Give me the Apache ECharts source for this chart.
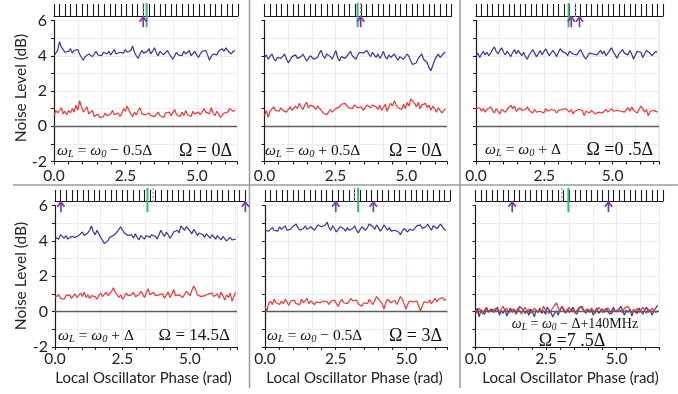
<!DOCTYPE html>
<html><head><meta charset="utf-8">
<script src="https://cdn.jsdelivr.net/npm/echarts@6.0.0/dist/echarts.min.js"></script>
<style>html,body{margin:0;padding:0;background:#fff}#c{width:678px;height:394px}</style>
</head><body><div id="c"></div>
<script>
// ---------- data ----------
const xTickLabels = ['0.0', '2.5', '5.0'];
const yTickLabels = ['-2', '0', '2', '4', '6'];

const blue1 = [4.0,4.1,4.3,4.8,4.5,4.35,4.2,4.3,4.25,4.4,4.15,4.3,4.2,4.35,4.1,3.9,3.75,3.95,4.05,4.1,4.0,3.95,4.1,4.25,4.05,4.15,4.0,4.2,4.3,4.1,4.25,4.05,4.2,4.35,4.1,4.0,4.2,4.3,4.15,4.35,4.2,4.1,4.3,4.55,4.2,4.0,3.85,4.1,4.3,4.15,4.05,4.25,4.4,4.1,4.2,4.45,4.15,4.0,4.25,4.3,4.05,4.15,4.3,4.1,3.95,3.8,4.0,4.2,4.05,4.15,4.0,4.25,4.1,4.2,4.3,4.0,4.1,4.25,4.05,3.9,4.1,4.25,4.2,4.3,4.05,3.75,3.95,4.1,4.2,4.05,4.25,4.3,4.4,4.25,4.45,4.3,4.2,4.1,4.25,4.3];
const red1 = [0.6,0.9,0.75,0.8,1.05,0.7,0.85,0.65,0.9,0.75,1.0,0.8,1.2,0.9,1.45,1.1,0.8,0.95,1.1,0.7,0.65,0.9,0.55,0.6,0.7,0.5,0.6,0.55,0.75,0.6,0.5,0.7,0.9,0.65,0.6,0.75,0.55,0.7,1.0,0.85,1.15,0.9,0.7,0.55,0.8,0.65,0.9,1.05,0.7,0.6,0.65,0.55,0.75,0.6,0.7,0.55,0.65,0.8,0.6,0.7,0.5,0.75,0.65,0.8,0.6,0.7,0.95,0.65,0.7,0.55,0.8,0.6,0.9,0.65,0.75,0.55,0.85,0.7,0.6,0.8,0.65,0.75,1.0,0.8,0.9,0.7,1.05,0.75,0.6,0.85,0.7,0.5,0.6,0.75,0.65,0.8,1.0,0.95,0.85,0.9];

const blue2 = [3.9,4.05,3.8,3.95,4.1,3.85,3.7,3.9,4.0,3.85,3.95,4.1,3.8,3.6,3.75,3.95,3.9,4.05,3.85,3.8,3.95,4.1,3.9,3.7,3.85,4.0,3.95,3.8,3.75,3.9,4.15,4.3,4.0,3.85,4.1,4.2,3.95,3.8,4.05,4.3,3.9,3.7,3.95,4.05,3.85,3.75,4.1,4.25,4.0,3.9,3.8,4.05,4.2,4.3,4.15,4.05,4.3,4.1,3.95,4.2,4.05,3.9,4.1,3.85,4.0,4.25,3.95,3.8,4.05,3.9,3.85,4.1,3.9,3.75,3.95,4.05,3.8,3.9,4.1,3.95,3.7,3.5,3.4,3.6,3.85,3.95,4.1,3.8,3.9,3.6,3.3,3.15,3.45,3.75,3.95,4.1,3.9,3.8,4.15,4.2];
const red2 = [0.6,0.9,0.5,0.85,0.95,1.1,0.9,1.0,0.85,1.05,0.9,1.0,0.8,0.95,1.1,0.9,0.85,1.15,1.0,1.3,1.1,0.95,1.2,1.35,1.05,1.2,1.25,1.1,0.95,1.15,1.05,0.9,0.75,0.85,0.65,0.8,0.95,0.8,0.9,1.0,0.9,1.1,1.25,1.15,1.3,1.2,1.05,1.15,1.0,1.2,1.3,1.05,0.95,1.1,0.9,1.0,1.2,1.15,1.05,1.2,1.3,1.1,0.95,1.2,0.9,1.05,1.25,0.85,1.1,1.3,1.15,1.45,1.2,1.05,1.15,0.95,1.25,1.0,1.35,1.15,1.55,1.65,1.3,1.1,1.35,1.0,1.2,1.1,1.3,1.05,1.2,0.9,1.15,1.0,0.8,1.05,0.9,0.75,0.9,1.0];

const blue3 = [4.0,4.15,3.9,4.1,4.25,4.05,4.2,4.0,4.15,4.35,4.5,4.25,4.1,4.3,4.45,4.2,4.05,4.25,4.1,3.95,4.2,4.35,4.1,4.3,4.15,4.0,4.2,3.95,3.8,4.05,4.2,4.35,4.15,3.95,4.1,4.3,4.05,4.15,4.4,4.2,4.0,4.1,4.3,4.15,3.95,4.2,4.4,4.25,4.35,4.15,4.0,4.25,4.35,4.1,4.2,4.05,4.15,4.35,4.15,3.95,3.8,4.0,4.15,4.25,4.1,4.2,4.05,4.15,4.3,4.1,4.25,4.0,4.15,4.3,4.45,4.2,4.05,3.85,4.1,4.2,4.35,4.15,4.25,4.05,4.3,4.1,3.8,4.05,4.25,4.15,4.2,3.9,4.1,4.3,4.2,4.15,4.0,4.1,4.25,4.2];
const red3 = [1.0,0.9,1.05,0.85,1.0,0.8,0.95,0.85,1.1,0.9,0.75,1.0,0.85,0.7,0.95,1.05,0.8,0.95,0.85,1.2,1.0,1.15,0.85,0.95,1.05,0.9,0.8,0.95,1.1,0.9,0.85,0.75,0.95,0.8,0.7,0.85,0.9,0.75,1.0,0.85,0.8,0.95,1.05,0.9,0.75,0.9,0.8,0.95,0.85,1.0,0.9,0.8,0.95,0.7,0.85,0.8,0.95,1.05,0.9,0.6,0.85,0.95,0.75,0.9,0.85,0.7,0.6,0.8,0.9,0.75,0.85,0.95,0.8,0.9,1.0,0.85,0.75,0.9,1.0,0.85,0.95,0.8,0.9,1.05,0.85,1.1,0.9,0.95,0.75,0.85,1.15,1.0,0.8,0.95,0.6,0.85,0.75,0.9,0.95,0.8];

const blue4 = [4.2,4.3,4.1,4.35,4.25,4.15,4.3,4.1,4.0,4.25,4.35,4.2,4.15,4.3,4.4,4.5,4.3,4.2,4.45,4.6,4.85,4.5,4.35,4.6,4.4,4.2,4.05,3.85,3.75,4.0,4.2,4.1,4.3,4.2,4.5,4.65,4.8,4.6,4.45,4.55,4.3,4.2,4.35,4.15,4.4,4.2,4.05,4.3,4.25,4.1,4.3,4.4,4.2,4.35,4.45,4.25,4.1,4.35,4.6,4.4,4.25,4.5,4.35,4.15,4.3,4.5,4.4,4.6,4.45,4.85,4.75,4.6,4.8,4.7,4.55,4.4,4.65,4.5,4.3,4.45,4.55,4.35,4.2,4.4,4.3,4.15,4.35,4.25,4.1,4.3,4.2,4.05,4.25,4.15,4.0,4.1,4.2,4.05,4.15,4.1];
const red4 = [0.8,0.7,0.95,0.75,0.85,0.7,0.9,0.8,0.95,0.75,0.85,1.0,0.8,0.9,1.05,0.85,1.1,0.8,0.95,0.75,0.9,1.0,0.85,0.7,0.9,1.05,0.85,0.95,1.1,0.9,1.0,1.15,1.35,1.1,1.0,0.8,0.95,0.7,0.85,1.05,0.9,0.8,0.95,1.1,0.85,0.75,0.95,1.15,1.0,0.8,1.05,1.3,0.95,0.85,1.1,0.9,0.8,0.95,0.85,1.0,0.75,0.95,1.1,0.8,1.0,1.25,0.9,0.85,0.95,1.05,0.8,0.9,1.15,1.05,0.9,1.2,1.45,1.25,0.95,1.05,0.85,0.95,0.9,0.8,1.0,0.9,1.05,0.85,0.95,1.0,0.75,1.1,0.9,0.65,0.95,0.8,1.05,0.6,0.85,1.1];

const blue5 = [4.6,4.7,4.55,4.65,4.75,4.6,4.7,4.55,4.8,4.65,4.7,4.85,4.6,4.5,4.65,4.8,4.7,4.95,4.75,4.6,4.5,4.7,4.85,4.65,4.55,4.8,4.7,4.6,4.75,4.9,5.0,4.8,4.7,4.9,5.05,4.75,4.6,4.85,4.7,4.5,4.65,4.8,4.9,4.7,4.55,4.75,4.6,4.5,4.7,4.85,4.6,4.45,4.65,4.8,4.7,4.6,4.75,4.95,5.05,4.8,4.65,4.9,4.75,4.55,4.7,4.9,4.8,4.6,4.75,4.55,4.45,4.6,4.7,4.5,4.35,4.55,4.7,4.6,4.5,4.65,4.75,4.6,4.7,4.85,4.75,4.9,4.7,4.6,4.8,4.95,4.75,4.6,4.85,4.9,4.7,4.8,4.95,4.85,4.65,4.6];
const red5 = [0.3,0.05,0.45,0.6,0.4,0.7,0.5,0.55,0.4,0.6,0.45,0.7,0.55,0.35,0.6,0.5,0.65,0.45,0.55,0.4,0.7,0.5,0.6,0.75,0.45,0.6,0.5,0.4,0.55,0.65,0.5,0.45,0.6,0.7,0.55,0.4,0.6,0.5,0.65,0.45,0.3,0.55,0.7,0.5,0.6,0.45,0.55,0.75,0.6,0.5,0.65,0.45,0.55,0.3,0.5,0.6,0.45,0.7,0.55,0.4,0.65,0.85,0.8,0.6,0.45,0.15,0.5,0.7,0.6,0.5,0.55,0.65,0.4,0.6,0.85,0.7,0.45,0.15,0.4,0.6,0.7,0.55,0.45,0.6,0.5,0.05,0.35,0.55,0.6,0.5,0.65,0.45,0.6,0.75,0.55,0.7,0.6,0.8,0.65,0.7];

const blue6 = [-0.1,0.2,-0.3,0.1,0.05,-0.15,0.2,0.0,-0.1,0.15,-0.05,0.1,0.25,-0.2,0.05,-0.1,0.15,-0.25,0.0,0.2,-0.05,0.1,-0.15,0.05,0.3,0.4,0.1,-0.1,0.05,-0.2,0.15,0.0,-0.3,0.1,-0.05,0.2,-0.1,0.05,-0.15,0.25,0.1,-0.05,-0.3,-0.1,0.05,-0.2,0.1,0.3,0.05,-0.1,0.15,-0.05,0.1,0.25,0.0,-0.15,0.1,0.3,0.2,0.05,-0.1,0.15,-0.05,0.1,-0.2,0.05,0.2,-0.1,0.0,0.15,-0.05,0.2,0.1,-0.15,0.05,0.25,0.0,-0.1,0.15,0.3,0.05,-0.2,0.1,-0.05,0.15,-0.25,0.05,0.1,-0.1,0.2,0.0,-0.15,0.1,0.25,-0.05,0.1,-0.2,0.05,0.15,0.35];
const red6 = [0.1,-0.1,0.2,0.05,-0.15,0.1,0.25,-0.05,0.15,0.0,-0.1,0.2,0.1,-0.05,0.15,0.3,0.05,0.2,-0.1,0.1,0.0,0.15,-0.05,0.2,0.05,-0.15,0.1,0.25,0.0,0.15,-0.1,0.05,0.2,0.1,-0.05,0.15,0.0,0.3,0.1,0.2,-0.1,0.05,0.15,0.35,0.5,0.2,0.05,0.3,0.15,-0.05,0.1,0.25,0.0,0.15,-0.1,0.05,0.2,0.1,0.3,0.05,-0.05,0.15,0.0,0.2,0.1,-0.1,0.05,0.25,0.15,-0.05,0.1,0.0,0.2,0.05,-0.15,0.1,0.2,0.0,0.15,0.05,-0.05,0.2,0.1,0.3,0.05,-0.1,0.15,0.0,0.2,-0.05,0.1,0.25,0.05,-0.1,0.15,0.0,0.2,0.1,-0.05,0.05];

// marker positions (x, rad): green line, dotted purple line, purple arrows
const green = [3.24, 3.28, 3.39, 3.43, 3.29, 3.29];
const dotted = [3.12, 3.39, 3.64, 3.64, 3.16, 3.06];
const arrows = [[3.12], [3.39], [3.49, 3.79], [0.22, 7.06], [2.50, 3.83], [1.30, 4.71]];

const wlOps = ['−0.5Δ', '+0.5Δ', '+Δ', '+Δ', '−0.5Δ', '−Δ+140MHz'];
const omegas = ['Ω = 0Δ', 'Ω = 0Δ', 'Ω =0 .5Δ', 'Ω = 14.5Δ', 'Ω = 3Δ', 'Ω =7 .5Δ'];

const blues = [blue1, blue2, blue3, blue4, blue5, blue6];
const reds = [red1, red2, red3, red4, red5, red6];

// ---------- layout ----------
const layout = [
  {L:54,    R:237, T:20.5,  B:161.5, xMax:6.4,  xEnd:6.33, cT:4,   cB:16,  cR:238,   cN:33, lm:6},
  {L:264.5, R:447, T:20.5,  B:161.5, xMax:6.43, xEnd:6.38, cT:4,   cB:16,  cR:451.5, cN:33, lm:6},
  {L:476,   R:659, T:20.5,  B:161.5, xMax:6.7,  xEnd:6.64, cT:4,   cB:16,  cR:663,   cN:34, lm:6},
  {L:55,    R:237, T:205.5, B:347,   xMax:6.75, xEnd:6.7,  cT:190, cB:201, cR:245,   cN:34, lm:4},
  {L:265,   R:447.5, T:205.5, B:347, xMax:6.45, xEnd:6.4,  cT:190, cB:201, cR:450,   cN:33, lm:4},
  {L:475.5, R:659, T:205.5, B:347,   xMax:6.5,  xEnd:6.45, cT:190, cB:201, cR:663,   cN:34, lm:4}
];

const BLUE = '#34349c', RED = '#f03434', AX = '#1a1a1a';
const FONT = 'Lato';
const MATH = 'Liberation Serif';

const grid = [], xAxis = [], yAxis = [], series = [];

function markerItem(params, api) {
  const x = api.value(0), kind = api.value(1);
  const t = api.coord([x, kind === 2 ? 6.2 : 7.0]);
  const b = api.coord([x, kind === 1 ? 6.2 : 5.62]);
  if (kind === 0) {
    return {type:'line', shape:{x1:t[0], y1:t[1], x2:b[0], y2:b[1]}, style:{stroke:'#3cb878', lineWidth:2}};
  }
  if (kind === 1) {
    return {type:'line', shape:{x1:t[0], y1:t[1], x2:b[0], y2:b[1]}, style:{stroke:'#a884c8', lineWidth:1.3, lineDash:[2,2]}};
  }
  return {type:'group', children:[
    {type:'line', shape:{x1:t[0], y1:t[1]+1, x2:b[0], y2:b[1]}, style:{stroke:'#7a3aa8', lineWidth:1.7}},
    {type:'polyline', shape:{points:[[t[0]-3.6, t[1]+4.8],[t[0], t[1]],[t[0]+3.6, t[1]+4.8]]}, style:{stroke:'#7a3aa8', lineWidth:1.7, fill:null}}
  ]};
}

layout.forEach((g, i) => {
  const col = i % 3;
  grid.push({left:g.L, top:g.T, width:g.R - g.L, height:g.B - g.T, containLabel:false});
  grid.push({left:g.L, top:g.cT, width:g.cR - g.L, height:g.cB - g.cT, containLabel:false});
  const gi = 2 * i, ci = 2 * i + 1;

  xAxis.push({
    gridIndex: gi, type:'value', min:0, max:g.xMax, interval:0.5,
    axisLine:{show:true, onZero:false, lineStyle:{color:AX, width:1.2}},
    axisTick:{show:true, length:3, lineStyle:{color:AX}},
    axisLabel:{show:true, margin:g.lm, fontFamily:FONT, fontSize:15.5, color:'#222',
      formatter: v => { const k = Math.round(v / 2.5); return Math.abs(v - 2.5 * k) < 1e-6 && xTickLabels[k] ? xTickLabels[k] : ''; }},
    splitLine:{show:false}
  });
  xAxis.push({
    gridIndex: gi, type:'value', min:0, max:g.xMax, interval:5/6,
    axisLine:{show:false}, axisTick:{show:false}, axisLabel:{show:false},
    splitLine:{show:true, lineStyle:{color:'#ebebf4', width:1}}
  });
  xAxis.push({
    gridIndex: ci, type:'value', min:0, max:g.cN, interval:1,
    axisLine:{show:true, lineStyle:{color:AX, width:1.2}},
    axisTick:{show:true, inside:true, length:g.cB - g.cT, lineStyle:{color:AX, width:1.1}},
    axisLabel:{show:false}, splitLine:{show:false}
  });

  yAxis.push({
    gridIndex: gi, type:'value', min:-2, max:6, interval:1,
    axisLine:{show:true, lineStyle:{color:AX, width:1.2}},
    axisTick:{show:true, length:3, lineStyle:{color:AX}},
    axisLabel:{show: col === 0, margin:7, fontFamily:FONT, fontSize:16, color:'#222',
      formatter: v => (yTickLabels.indexOf(String(v)) >= 0 ? String(v) : '')},
    splitLine:{show:true, lineStyle:{color:'#ebebf4', width:1}}
  });
  yAxis.push({gridIndex: ci, type:'value', min:0, max:1, show:false});

  const n1 = blues[i].length, n2 = reds[i].length;
  const xa = 3 * i, ya = 2 * i;
  series.push({
    type:'line', xAxisIndex:xa, yAxisIndex:ya, showSymbol:false, symbol:'none',
    data: reds[i].map((v, k) => [k * g.xEnd / (n2 - 1), v]),
    lineStyle:{color:RED, width:1.2}, itemStyle:{color:RED}, z:3, animation:false
  });
  series.push({
    type:'line', xAxisIndex:xa, yAxisIndex:ya, showSymbol:false, symbol:'none',
    data: blues[i].map((v, k) => [k * g.xEnd / (n1 - 1), v]),
    lineStyle:{color:BLUE, width:1.2}, itemStyle:{color:BLUE}, z: i === 5 ? 2 : 3, animation:false,
    markLine:{silent:true, symbol:['none','none'], label:{show:false}, animation:false,
      lineStyle:{color:'#5e5e5e', width:1.4, type:'solid'}, data:[{yAxis:0}]}
  });
  const mk = [[green[i], 0, 0], [dotted[i], 1, 0]].concat(arrows[i].map(a => [a, 2, 0]));
  series.push({
    type:'custom', xAxisIndex:xa, yAxisIndex:ya, clip:false, z:5, animation:false,
    renderItem: markerItem, encode:{x:0, y:2}, data: mk
  });
});

// ---------- text & dividers ----------
const TXT = '#111';
const rich = {
  i:{fontFamily:MATH, fontStyle:'italic', fontSize:15.5, lineHeight:18, fill:TXT},
  s:{fontFamily:MATH, fontStyle:'italic', fontSize:10.5, lineHeight:10, verticalAlign:'bottom', fill:TXT},
  n:{fontFamily:MATH, fontSize:15.5, lineHeight:18, fill:TXT},
  i2:{fontFamily:MATH, fontStyle:'italic', fontSize:14, lineHeight:17, fill:TXT},
  s2:{fontFamily:MATH, fontStyle:'italic', fontSize:9.5, lineHeight:10, verticalAlign:'bottom', fill:TXT},
  n2:{fontFamily:MATH, fontSize:14, lineHeight:17, fill:TXT}
};
function wlText(op, small) {
  const a = small ? '2' : '';
  const sign = op.charAt(0) === '−' ? ' − ' : ' + ';
  return `{i${a}|ω}{s${a}|L}{n${a}| = }{i${a}|ω}{s${a}|0}{n${a}|${sign}${op.slice(1)}}`;
}
const graphic = [];
const wlPos = [[57,151],[265,151],[485,150],[58,336],[267,336]];
const omPos = [[232,151],[442,151],[653,150],[230,336],[442,336]];
for (let i = 0; i < 5; i++) {
  graphic.push({type:'text', x:wlPos[i][0], y:wlPos[i][1], z:20,
    style:{text:wlText(wlOps[i], false), rich:rich, align:'left', verticalAlign:'middle'}});
  graphic.push({type:'text', x:omPos[i][0], y:omPos[i][1], z:20,
    style:{text:omegas[i], fontFamily:MATH, fontSize:i === 3 ? 17 : 18, fill:TXT, align:'right', verticalAlign:'middle'}});
}
graphic.push({type:'text', x:575, y:324, z:20,
  style:{text:wlText(wlOps[5], true), rich:rich, align:'center', verticalAlign:'middle'}});
graphic.push({type:'text', x:572, y:341, z:20,
  style:{text:omegas[5], fontFamily:MATH, fontSize:18, fill:TXT, align:'center', verticalAlign:'middle'}});

// axis titles
[[21, 88], [21, 276]].forEach(p => graphic.push({type:'text', x:p[0], y:p[1], rotation:Math.PI/2, z:20,
  style:{text:'Noise Level (dB)', fontFamily:FONT, fontSize:15.5, fill:'#222', align:'center', verticalAlign:'middle'}}));
[143.5, 354.5, 570.5].forEach(x => graphic.push({type:'text', x:x, y:378, z:20,
  style:{text:'Local Oscillator Phase (rad)', fontFamily:FONT, fontSize:15, fill:'#222', align:'center', verticalAlign:'middle'}}));

// panel dividers
graphic.push({type:'line', z:1, shape:{x1:13, y1:185, x2:678, y2:185}, style:{stroke:'#9a9a9a', lineWidth:1.5}});
graphic.push({type:'line', z:1, shape:{x1:249.5, y1:0, x2:249.5, y2:388}, style:{stroke:'#9a9a9a', lineWidth:1.5}});
graphic.push({type:'line', z:1, shape:{x1:460, y1:0, x2:460, y2:388}, style:{stroke:'#9a9a9a', lineWidth:1.5}});

const chart = echarts.init(document.getElementById('c'), null, {renderer:'canvas'});
chart.setOption({animation:false, backgroundColor:'#fff', grid, xAxis, yAxis, series, graphic});
</script>
</body></html>
